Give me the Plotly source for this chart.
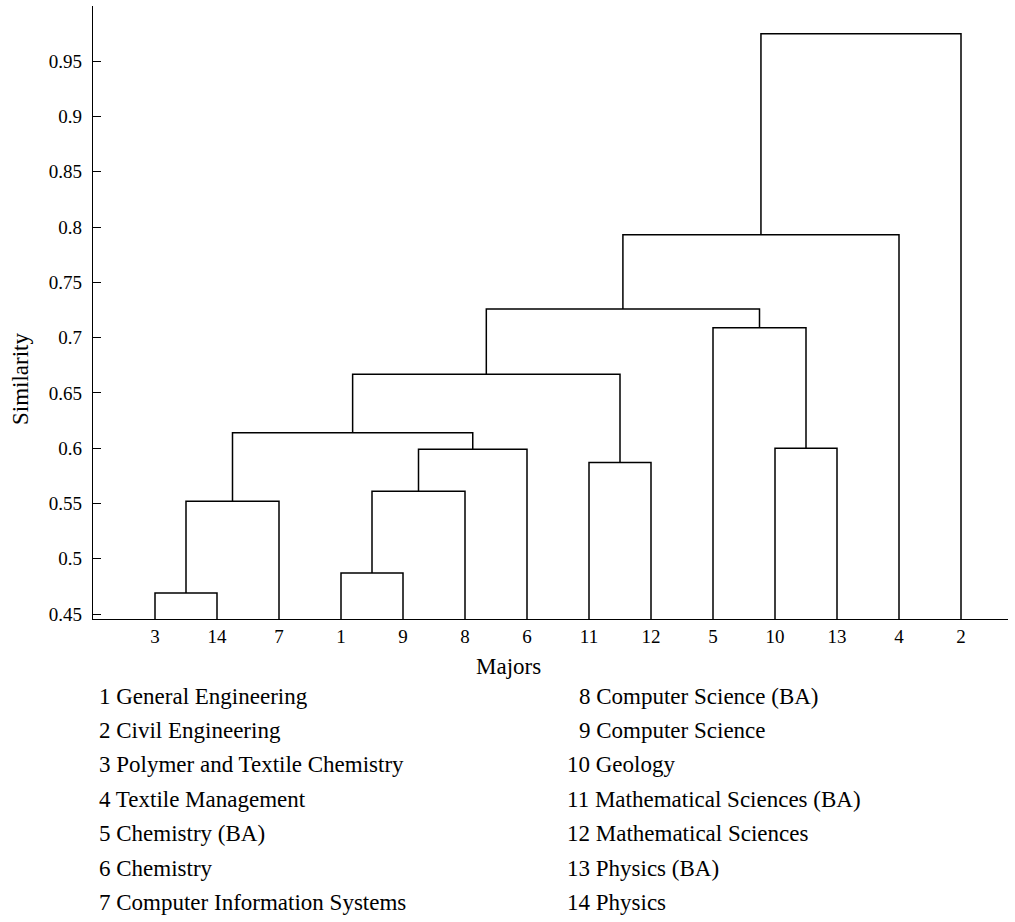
import plotly.graph_objects as go

# Leaf order along the horizontal axis (major ids)
leaf_order = [3, 14, 7, 1, 9, 8, 6, 11, 12, 5, 10, 13, 4, 2]

# Agglomeration steps: (member A, member B, similarity at merge).
# Members are major ids or "cK" for the cluster created by step K.
merge_a = [3, 1, "c0", "c1", 11, "c3", 10, "c2", "c7", 5, "c8", "c10", "c11"]
merge_b = [14, 9, 7, 8, 12, 6, 13, "c5", "c4", "c6", "c9", 4, 2]
merge_sim = [0.469, 0.487, 0.552, 0.561, 0.587, 0.599, 0.600,
             0.614, 0.667, 0.709, 0.726, 0.793, 0.975]

major_names = {
    1: "General Engineering",
    2: "Civil Engineering",
    3: "Polymer and Textile Chemistry",
    4: "Textile Management",
    5: "Chemistry (BA)",
    6: "Chemistry",
    7: "Computer Information Systems",
    8: "Computer Science (BA)",
    9: "Computer Science",
    10: "Geology",
    11: "Mathematical Sciences (BA)",
    12: "Mathematical Sciences",
    13: "Physics (BA)",
    14: "Physics",
}

y_tick_vals = [0.45, 0.5, 0.55, 0.6, 0.65, 0.7, 0.75, 0.8, 0.85, 0.9, 0.95]
y_tick_text = ["0.45", "0.5", "0.55", "0.6", "0.65", "0.7", "0.75", "0.8",
               "0.85", "0.9", "0.95"]

W, H = 1008, 916
PLOT_BOTTOM = 619
ML, MR, MT = 93, 0, 6
MB = H - PLOT_BOTTOM
PW, PH = W - ML - MR, H - MT - MB

Y_MIN, Y_MAX = 0.4455, 1.0
X_MIN, X_MAX = 0.0, PW / 62.0

# ---- geometry of the tree -------------------------------------------------
node_x = {leaf: i + 1 for i, leaf in enumerate(leaf_order)}
node_h = {leaf: Y_MIN for leaf in leaf_order}

xs, ys = [], []
for k, (a, b, h) in enumerate(zip(merge_a, merge_b, merge_sim)):
    xa, xb = node_x[a], node_x[b]
    xs += [xa, xa, xb, xb, None]
    ys += [node_h[a], h, h, node_h[b], None]
    node_x[f"c{k}"] = (xa + xb) / 2
    node_h[f"c{k}"] = h

FONT = "Liberation Serif"

fig = go.Figure()
fig.add_trace(go.Scatter(
    x=xs, y=ys, mode="lines",
    line=dict(color="black", width=1.5),
    hoverinfo="skip", showlegend=False,
))


def px_to_paper(px, py):
    return (px - ML) / PW, (PLOT_BOTTOM - py) / PH


annotations = []
# axis titles
ax_x, ax_y = px_to_paper(508, 666)
annotations.append(dict(text="Majors", x=ax_x, y=ax_y, xref="paper", yref="paper",
                        showarrow=False, xanchor="center", yanchor="middle",
                        font=dict(size=23, family=FONT, color="black")))
sx, sy = px_to_paper(20, 379)
annotations.append(dict(text="Similarity", x=sx, y=sy, xref="paper", yref="paper",
                        showarrow=False, xanchor="center", yanchor="middle",
                        textangle=-90,
                        font=dict(size=23, family=FONT, color="black")))

# key of major ids, two columns
for i in range(7):
    for col, mid in enumerate((i + 1, i + 8)):
        if col == 0:
            left_px = 97
        else:
            left_px = 577 if mid < 10 else 565
        lx, ly = px_to_paper(left_px, 696 + 34.4 * i)
        annotations.append(dict(text=f"{mid} {major_names[mid]}", x=lx, y=ly,
                                xref="paper", yref="paper", showarrow=False,
                                xanchor="left", yanchor="middle",
                                font=dict(size=23, family=FONT, color="black")))

fig.update_layout(
    width=W, height=H,
    margin=dict(l=ML, r=MR, t=MT, b=MB, pad=0),
    paper_bgcolor="white", plot_bgcolor="white",
    font=dict(family=FONT, size=19, color="black"),
    annotations=annotations,
    xaxis=dict(
        range=[X_MIN, X_MAX],
        tickmode="array",
        tickvals=list(range(1, len(leaf_order) + 1)),
        ticktext=[str(v) for v in leaf_order],
        ticks="", showgrid=False, zeroline=False,
        showline=True, linecolor="black", linewidth=1.3,
        tickfont=dict(size=19, family=FONT, color="black"),
        fixedrange=True,
    ),
    yaxis=dict(
        range=[Y_MIN, Y_MAX],
        tickmode="array", tickvals=y_tick_vals, ticktext=y_tick_text,
        ticks="inside", ticklen=8, tickwidth=1.3, tickcolor="black",
        showgrid=False, zeroline=False,
        showline=True, linecolor="black", linewidth=1.3,
        tickfont=dict(size=19, family=FONT, color="black"),
        ticklabelstandoff=6,
        fixedrange=True,
    ),
)

fig.write_html("out.html", config={"displayModeBar": False})
